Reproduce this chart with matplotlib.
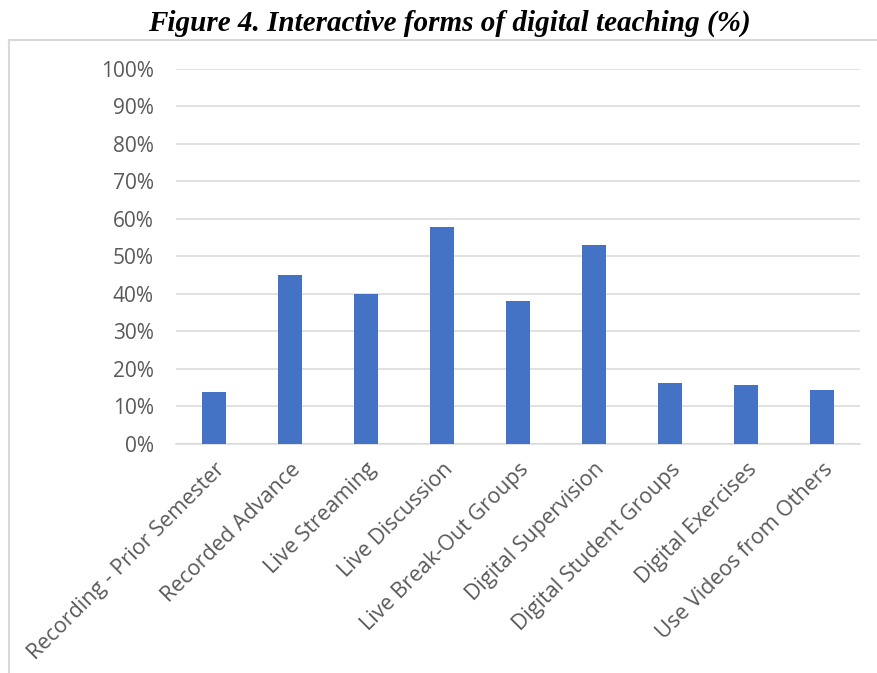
import matplotlib.pyplot as plt
from matplotlib.lines import Line2D
from matplotlib.ticker import PercentFormatter

categories = [
    "Recording - Prior Semester",
    "Recorded Advance",
    "Live Streaming",
    "Live Discussion",
    "Live Break-Out Groups",
    "Digital Supervision",
    "Digital Student Groups",
    "Digital Exercises",
    "Use Videos from Others",
]
shares = [13.8, 45.1, 39.9, 57.7, 38.1, 53.1, 16.1, 15.5, 14.4]
yticks = list(range(0, 101, 10))

grey = "#595959"
plt.rcParams["font.family"] = ["Open Sans", "DejaVu Sans"]

fig = plt.figure(figsize=(8.77, 6.73), dpi=100)
ax = fig.add_axes([0.2007, 0.341, 0.7799, 0.5565])

ax.bar(range(len(categories)), shares, width=0.31, color="#4472C4", zorder=3)

ax.set_ylim(0, 100)
ax.set_xlim(-0.5, len(categories) - 0.5)
ax.set_yticks(yticks)
ax.yaxis.set_major_formatter(PercentFormatter(decimals=0))
ax.set_xticks(range(len(categories)))
ax.set_xticklabels(categories, rotation=45, ha="right", rotation_mode="anchor")
ax.tick_params(axis="y", length=0, pad=16, labelsize=15, labelcolor=grey)
ax.tick_params(axis="x", length=0, pad=11, labelsize=15.5, labelcolor=grey)
ax.grid(axis="y", color="#d9d9d9", linewidth=1.1, zorder=0)
for side in ["top", "right", "left"]:
    ax.spines[side].set_visible(False)
ax.spines["bottom"].set_color("#d9d9d9")
ax.spines["bottom"].set_linewidth(1.1)

# frame around the figure (left and top only)
fig.add_artist(Line2D([9 / 877, 9 / 877], [0, 1 - 40 / 673], color="#d9d9d9", lw=1.5))
fig.add_artist(Line2D([9 / 877, 1], [1 - 40 / 673, 1 - 40 / 673], color="#d9d9d9", lw=1.5))

fig.text(0.513, 1 - 23 / 673, "Figure 4. Interactive forms of digital teaching (%)",
         ha="center", va="center", fontsize=21, fontweight="bold", fontstyle="italic",
         family="Liberation Serif")

fig.savefig("out.png", dpi=100)
